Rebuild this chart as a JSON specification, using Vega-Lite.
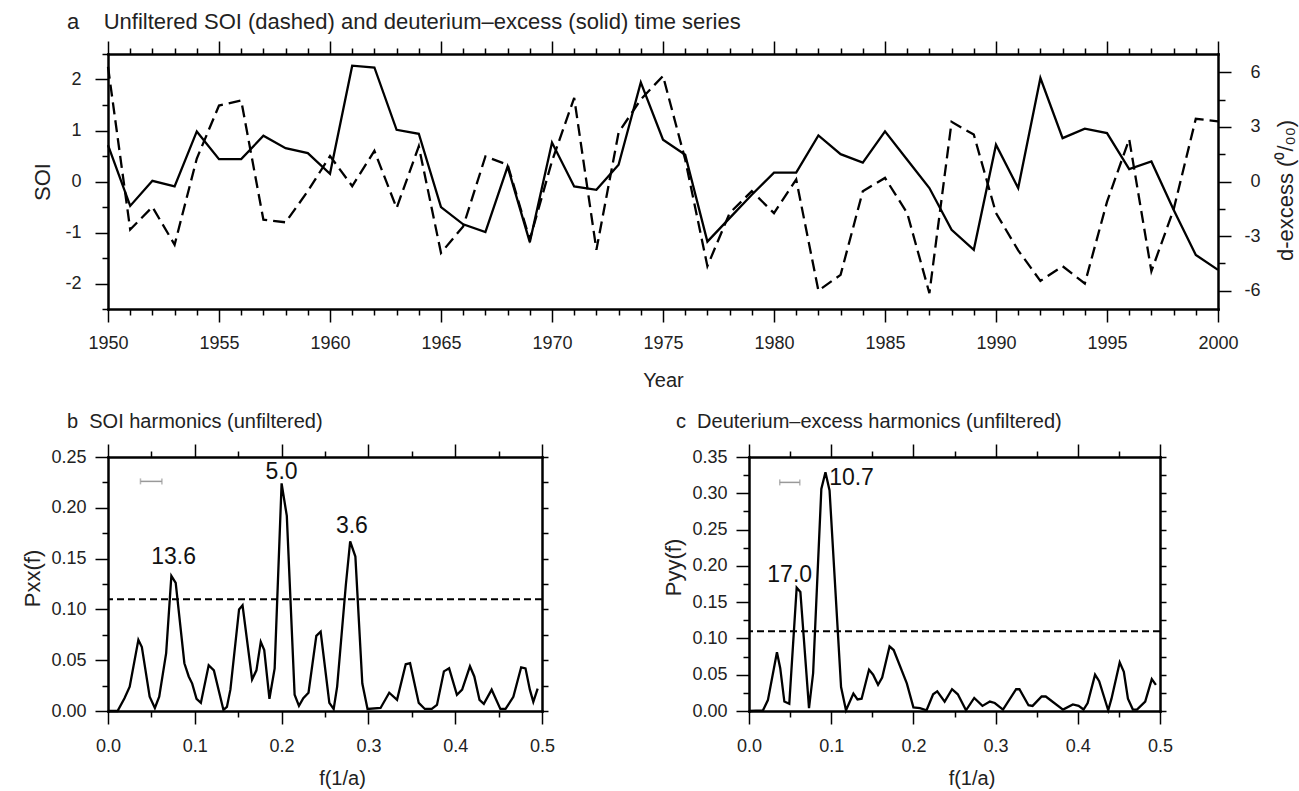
{
  "$schema": "https://vega.github.io/schema/vega-lite/v6.json",
  "autosize": {"type": "none"},
  "padding": {"left": 108, "top": 54, "right": 1191, "bottom": 737},
  "background": "white",
  "config": {
    "font": "Liberation Sans",
    "view": {"stroke": null},
    "axis": {"grid": false, "domainColor": "#000", "domainWidth": 2.5, "domainCap": "square", "tickColor": "#000", "tickWidth": 1.5, "labelFont": "Liberation Sans", "labelFontSize": 18, "labelColor": "#222", "titleFont": "Liberation Sans", "titleFontSize": 22, "titleFontWeight": "normal", "titleColor": "#222", "labelFlush": false, "labelOverlap": false, "labelBound": false, "zindex": 1},
    "title": {"font": "Liberation Sans", "fontWeight": "normal", "color": "#222", "anchor": "start", "frame": "group", "baseline": "alphabetic"}
  },
  "datasets": {
    "ts": [
      {"year": 1950, "soi": 2.25, "dex": 2.0},
      {"year": 1951, "soi": -0.94, "dex": -1.34},
      {"year": 1952, "soi": -0.5, "dex": 0.04},
      {"year": 1953, "soi": -1.24, "dex": -0.27},
      {"year": 1954, "soi": 0.45, "dex": 2.75},
      {"year": 1955, "soi": 1.49, "dex": 1.23},
      {"year": 1956, "soi": 1.59, "dex": 1.23},
      {"year": 1957, "soi": -0.75, "dex": 2.51},
      {"year": 1958, "soi": -0.8, "dex": 1.83},
      {"year": 1959, "soi": -0.19, "dex": 1.56},
      {"year": 1960, "soi": 0.5, "dex": 0.42},
      {"year": 1961, "soi": -0.09, "dex": 6.36},
      {"year": 1962, "soi": 0.6, "dex": 6.26},
      {"year": 1963, "soi": -0.52, "dex": 2.84},
      {"year": 1964, "soi": 0.69, "dex": 2.62},
      {"year": 1965, "soi": -1.4, "dex": -1.41},
      {"year": 1966, "soi": -0.88, "dex": -2.35},
      {"year": 1967, "soi": 0.49, "dex": -2.78},
      {"year": 1968, "soi": 0.33, "dex": 0.82},
      {"year": 1969, "soi": -1.14, "dex": -3.33},
      {"year": 1970, "soi": 0.4, "dex": 2.14},
      {"year": 1971, "soi": 1.64, "dex": -0.27},
      {"year": 1972, "soi": -1.34, "dex": -0.46},
      {"year": 1973, "soi": 0.96, "dex": 0.92},
      {"year": 1974, "soi": 1.61, "dex": 5.44},
      {"year": 1975, "soi": 2.07, "dex": 2.29},
      {"year": 1976, "soi": 0.43, "dex": 1.47},
      {"year": 1977, "soi": -1.66, "dex": -3.3},
      {"year": 1978, "soi": -0.62, "dex": -2.01},
      {"year": 1979, "soi": -0.19, "dex": -0.73},
      {"year": 1980, "soi": -0.62, "dex": 0.49},
      {"year": 1981, "soi": 0.04, "dex": 0.49},
      {"year": 1982, "soi": -2.14, "dex": 2.53},
      {"year": 1983, "soi": -1.83, "dex": 1.5},
      {"year": 1984, "soi": -0.19, "dex": 1.04},
      {"year": 1985, "soi": 0.07, "dex": 2.75},
      {"year": 1986, "soi": -0.62, "dex": 1.19},
      {"year": 1987, "soi": -2.19, "dex": -0.36},
      {"year": 1988, "soi": 1.17, "dex": -2.65},
      {"year": 1989, "soi": 0.92, "dex": -3.75},
      {"year": 1990, "soi": -0.62, "dex": 2.02},
      {"year": 1991, "soi": -1.35, "dex": -0.36},
      {"year": 1992, "soi": -1.95, "dex": 5.68},
      {"year": 1993, "soi": -1.66, "dex": 2.38},
      {"year": 1994, "soi": -2.0, "dex": 2.9},
      {"year": 1995, "soi": -0.4, "dex": 2.66},
      {"year": 1996, "soi": 0.83, "dex": 0.68},
      {"year": 1997, "soi": -1.76, "dex": 1.1},
      {"year": 1998, "soi": -0.55, "dex": -1.55},
      {"year": 1999, "soi": 1.23, "dex": -4.03},
      {"year": 2000, "soi": 1.18, "dex": -4.85}
    ],
    "sb": [
      {"f": 0.0, "p": 0.0}, {"f": 0.011, "p": 0.0}, {"f": 0.019, "p": 0.0125}, {"f": 0.025, "p": 0.024},
      {"f": 0.035, "p": 0.07}, {"f": 0.039, "p": 0.063}, {"f": 0.048, "p": 0.014}, {"f": 0.054, "p": 0.003},
      {"f": 0.059, "p": 0.014}, {"f": 0.067, "p": 0.057}, {"f": 0.073, "p": 0.133}, {"f": 0.078, "p": 0.126},
      {"f": 0.088, "p": 0.047}, {"f": 0.093, "p": 0.034}, {"f": 0.097, "p": 0.027}, {"f": 0.102, "p": 0.012},
      {"f": 0.107, "p": 0.008}, {"f": 0.116, "p": 0.045}, {"f": 0.122, "p": 0.04}, {"f": 0.133, "p": 0.001},
      {"f": 0.137, "p": 0.004}, {"f": 0.141, "p": 0.021}, {"f": 0.151, "p": 0.1}, {"f": 0.155, "p": 0.104},
      {"f": 0.166, "p": 0.031}, {"f": 0.171, "p": 0.04}, {"f": 0.176, "p": 0.068}, {"f": 0.18, "p": 0.06},
      {"f": 0.186, "p": 0.012}, {"f": 0.192, "p": 0.042}, {"f": 0.2, "p": 0.224}, {"f": 0.206, "p": 0.192},
      {"f": 0.215, "p": 0.016}, {"f": 0.22, "p": 0.005}, {"f": 0.225, "p": 0.0125}, {"f": 0.231, "p": 0.018},
      {"f": 0.24, "p": 0.074}, {"f": 0.245, "p": 0.078}, {"f": 0.255, "p": 0.008}, {"f": 0.26, "p": 0.002},
      {"f": 0.264, "p": 0.024}, {"f": 0.274, "p": 0.124}, {"f": 0.279, "p": 0.167}, {"f": 0.285, "p": 0.152},
      {"f": 0.293, "p": 0.027}, {"f": 0.299, "p": 0.002}, {"f": 0.314, "p": 0.003}, {"f": 0.324, "p": 0.018},
      {"f": 0.333, "p": 0.011}, {"f": 0.343, "p": 0.046}, {"f": 0.348, "p": 0.047}, {"f": 0.358, "p": 0.008},
      {"f": 0.365, "p": 0.002}, {"f": 0.373, "p": 0.002}, {"f": 0.379, "p": 0.006}, {"f": 0.387, "p": 0.039},
      {"f": 0.393, "p": 0.042}, {"f": 0.402, "p": 0.016}, {"f": 0.408, "p": 0.021}, {"f": 0.417, "p": 0.044},
      {"f": 0.422, "p": 0.034}, {"f": 0.428, "p": 0.011}, {"f": 0.433, "p": 0.007}, {"f": 0.442, "p": 0.021},
      {"f": 0.452, "p": 0.002}, {"f": 0.458, "p": 0.002}, {"f": 0.467, "p": 0.014}, {"f": 0.476, "p": 0.043},
      {"f": 0.481, "p": 0.042}, {"f": 0.486, "p": 0.021}, {"f": 0.49, "p": 0.009}, {"f": 0.495, "p": 0.022}
    ],
    "sc": [
      {"f": 0.0, "p": 0.0}, {"f": 0.017, "p": 0.001}, {"f": 0.023, "p": 0.015}, {"f": 0.034, "p": 0.081},
      {"f": 0.038, "p": 0.059}, {"f": 0.043, "p": 0.013}, {"f": 0.049, "p": 0.01}, {"f": 0.058, "p": 0.17},
      {"f": 0.0625, "p": 0.164}, {"f": 0.073, "p": 0.004}, {"f": 0.078, "p": 0.052}, {"f": 0.088, "p": 0.306},
      {"f": 0.093, "p": 0.329}, {"f": 0.098, "p": 0.304}, {"f": 0.112, "p": 0.033}, {"f": 0.118, "p": 0.001},
      {"f": 0.127, "p": 0.024}, {"f": 0.132, "p": 0.016}, {"f": 0.137, "p": 0.017}, {"f": 0.146, "p": 0.057},
      {"f": 0.151, "p": 0.05}, {"f": 0.157, "p": 0.036}, {"f": 0.162, "p": 0.046}, {"f": 0.171, "p": 0.089},
      {"f": 0.176, "p": 0.084}, {"f": 0.192, "p": 0.038}, {"f": 0.2, "p": 0.005}, {"f": 0.208, "p": 0.004},
      {"f": 0.216, "p": 0.001}, {"f": 0.224, "p": 0.023}, {"f": 0.229, "p": 0.027}, {"f": 0.238, "p": 0.013},
      {"f": 0.247, "p": 0.03}, {"f": 0.254, "p": 0.023}, {"f": 0.264, "p": 0.001}, {"f": 0.274, "p": 0.018},
      {"f": 0.284, "p": 0.007}, {"f": 0.293, "p": 0.013}, {"f": 0.299, "p": 0.011}, {"f": 0.309, "p": 0.002},
      {"f": 0.325, "p": 0.03}, {"f": 0.329, "p": 0.03}, {"f": 0.34, "p": 0.008}, {"f": 0.345, "p": 0.007},
      {"f": 0.356, "p": 0.02}, {"f": 0.361, "p": 0.02}, {"f": 0.382, "p": 0.002}, {"f": 0.394, "p": 0.009},
      {"f": 0.401, "p": 0.007}, {"f": 0.407, "p": 0.002}, {"f": 0.412, "p": 0.011}, {"f": 0.421, "p": 0.05},
      {"f": 0.426, "p": 0.041}, {"f": 0.437, "p": 0.001}, {"f": 0.441, "p": 0.017}, {"f": 0.451, "p": 0.067},
      {"f": 0.456, "p": 0.054}, {"f": 0.461, "p": 0.017}, {"f": 0.467, "p": 0.002}, {"f": 0.472, "p": 0.002},
      {"f": 0.482, "p": 0.013}, {"f": 0.49, "p": 0.044}, {"f": 0.495, "p": 0.036}
    ],
    "sig": [{"sig": 0.11}],
    "bw_b": [{"f1": 0.0374, "f2": 0.0621, "p": 0.226}],
    "cap_b": [{"f": 0.0374, "p": 0.226}, {"f": 0.0621, "p": 0.226}],
    "bw_c": [{"f1": 0.0374, "f2": 0.0618, "p": 0.315}],
    "cap_c": [{"f": 0.0374, "p": 0.315}, {"f": 0.0618, "p": 0.315}],
    "pk_b": [{"f": 0.0755, "p": 0.152, "label": "13.6"}, {"f": 0.2, "p": 0.235, "label": "5.0"}, {"f": 0.281, "p": 0.1825, "label": "3.6"}],
    "pk_c": [{"f": 0.0495, "p": 0.187, "label": "17.0"}, {"f": 0.1247, "p": 0.3216, "label": "10.7"}]
  },
  "spacing": 148,
  "bounds": "flush",
  "vconcat": [
    {
      "width": 1110,
      "height": 255,
      "data": {"name": "ts"},
      "title": {"text": "a\u00a0\u00a0\u00a0\u00a0Unfiltered SOI (dashed) and deuterium\u2013excess (solid) time series", "fontSize": 22, "dx": -41, "offset": 6},
      "layer": [
        {
          "mark": {"type": "line", "color": "#000", "strokeWidth": 2.3},
          "encoding": {
            "x": {"field": "year", "type": "quantitative", "scale": {"domain": [1950, 2000], "nice": false, "zero": false},
              "axis": {"orient": "bottom", "values": [1950, 1955, 1960, 1965, 1970, 1975, 1980, 1985, 1990, 1995, 2000], "format": "d", "tickSize": 13, "labelPadding": 12, "title": "Year", "titleFontSize": 20, "titlePadding": 18}},
            "y": {"field": "dex", "type": "quantitative", "scale": {"domain": [-7, 7], "nice": false, "zero": false},
              "axis": {"orient": "right", "values": [-6, -3, 0, 3, 6], "tickSize": 13, "labelAlign": "right", "labelPadding": 29, "labelExpr": "replace(datum.label, '\u2212', '-')", "title": "d-excess (\u2070/\u2080\u2080)", "titleAngle": 270, "titleBaseline": "top", "titlePadding": 15, "titleY": 136, "titleFontSize": 22}}
          }
        },
        {
          "mark": {"type": "line", "color": "#000", "strokeWidth": 2.3, "strokeDash": [12, 6]},
          "encoding": {
            "x": {"field": "year", "type": "quantitative", "scale": {"domain": [1950, 2000], "nice": false, "zero": false},
              "axis": {"orient": "top", "values": [1950, 1955, 1960, 1965, 1970, 1975, 1980, 1985, 1990, 1995, 2000], "tickSize": 13, "labels": false, "title": null}},
            "y": {"field": "soi", "type": "quantitative", "scale": {"domain": [-2.5, 2.5], "nice": false, "zero": false},
              "axis": {"orient": "left", "values": [-2, -1, 0, 1, 2], "tickSize": 13, "labelPadding": 14, "labelExpr": "replace(datum.label, '\u2212', '-')", "title": "SOI", "titlePadding": 10}}
          }
        },
        {
          "mark": {"type": "line", "opacity": 0},
          "encoding": {
            "x": {"field": "year", "type": "quantitative", "scale": {"domain": [1950, 2000], "nice": false, "zero": false},
              "axis": {"orient": "bottom", "values": [1951, 1952, 1953, 1954, 1956, 1957, 1958, 1959, 1961, 1962, 1963, 1964, 1966, 1967, 1968, 1969, 1971, 1972, 1973, 1974, 1976, 1977, 1978, 1979, 1981, 1982, 1983, 1984, 1986, 1987, 1988, 1989, 1991, 1992, 1993, 1994, 1996, 1997, 1998, 1999], "tickSize": 6, "labels": false, "domain": false, "title": null}},
            "y": {"field": "soi", "type": "quantitative", "scale": {"domain": [-2.5, 2.5], "nice": false, "zero": false},
              "axis": {"orient": "left", "values": [-2.5, -1.5, -0.5, 0.5, 1.5, 2.5], "tickSize": 6, "labels": false, "domain": false, "title": null}}
          }
        },
        {
          "mark": {"type": "line", "opacity": 0},
          "encoding": {
            "x": {"field": "year", "type": "quantitative", "scale": {"domain": [1950, 2000], "nice": false, "zero": false},
              "axis": {"orient": "top", "values": [1951, 1952, 1953, 1954, 1956, 1957, 1958, 1959, 1961, 1962, 1963, 1964, 1966, 1967, 1968, 1969, 1971, 1972, 1973, 1974, 1976, 1977, 1978, 1979, 1981, 1982, 1983, 1984, 1986, 1987, 1988, 1989, 1991, 1992, 1993, 1994, 1996, 1997, 1998, 1999], "tickSize": 6, "labels": false, "domain": false, "title": null}},
            "y": {"field": "dex", "type": "quantitative", "scale": {"domain": [-7, 7], "nice": false, "zero": false},
              "axis": {"orient": "right", "values": [-4.5, -1.5, 1.5, 4.5], "tickSize": 7, "labels": false, "domain": false, "title": null}}
          }
        }
      ],
      "resolve": {"scale": {"y": "independent"}, "axis": {"x": "independent", "y": "independent"}}
    },
    {
      "spacing": 207,
      "bounds": "flush",
      "hconcat": [
        {
          "width": 434,
          "height": 254,
          "title": {"text": "b\u00a0\u00a0SOI harmonics (unfiltered)", "fontSize": 20, "dx": -41, "offset": 11},
          "layer": [
            {
              "data": {"name": "sb"},
              "mark": {"type": "line", "color": "#000", "strokeWidth": 2.3},
              "encoding": {
                "x": {"field": "f", "type": "quantitative", "scale": {"domain": [0, 0.5], "nice": false},
                  "axis": {"orient": "bottom", "values": [0, 0.1, 0.2, 0.3, 0.4, 0.5], "format": ".1f", "tickSize": 13, "labelPadding": 13, "title": "f(1/a)", "titleFontSize": 20, "titlePadding": 13, "titleX": 234}},
                "y": {"field": "p", "type": "quantitative", "scale": {"domain": [0, 0.25], "nice": false},
                  "axis": {"orient": "left", "values": [0, 0.05, 0.1, 0.15, 0.2, 0.25], "format": ".2f", "tickSize": 13, "labelPadding": 9, "title": "Pxx(f)", "titlePadding": 6, "titleY": 121}}
              }
            },
            {
              "data": {"name": "sb"},
              "mark": {"type": "line", "opacity": 0},
              "encoding": {
                "x": {"field": "f", "type": "quantitative", "scale": {"domain": [0, 0.5], "nice": false},
                  "axis": {"orient": "bottom", "values": [0.05, 0.15, 0.25, 0.35, 0.45], "tickSize": 6, "labels": false, "domain": false, "title": null}},
                "y": {"field": "p", "type": "quantitative", "scale": {"domain": [0, 0.25], "nice": false},
                  "axis": {"orient": "left", "values": [0.025, 0.075, 0.125, 0.175, 0.225], "tickSize": 6, "labels": false, "domain": false, "title": null}}
              }
            },
            {
              "data": {"name": "sb"},
              "mark": {"type": "line", "opacity": 0},
              "encoding": {
                "x": {"field": "f", "type": "quantitative", "scale": {"domain": [0, 0.5], "nice": false},
                  "axis": {"orient": "top", "values": [0, 0.1, 0.2, 0.3, 0.4, 0.5], "tickSize": 13, "labels": false, "title": null}},
                "y": {"field": "p", "type": "quantitative", "scale": {"domain": [0, 0.25], "nice": false},
                  "axis": {"orient": "right", "values": [0, 0.025, 0.05, 0.075, 0.1, 0.125, 0.15, 0.175, 0.2, 0.225, 0.25], "tickSize": 6, "labels": false, "title": null}}
              }
            },
            {
              "data": {"name": "sb"},
              "mark": {"type": "line", "opacity": 0},
              "encoding": {
                "x": {"field": "f", "type": "quantitative", "scale": {"domain": [0, 0.5], "nice": false},
                  "axis": {"orient": "top", "values": [0.05, 0.15, 0.25, 0.35, 0.45], "tickSize": 6, "labels": false, "domain": false, "title": null}},
                "y": {"field": "p", "type": "quantitative", "scale": {"domain": [0, 0.25], "nice": false}, "axis": null}
              }
            },
            {
              "data": {"name": "sig"},
              "mark": {"type": "rule", "color": "#000", "strokeWidth": 2, "strokeDash": [7, 4]},
              "encoding": {
                "y": {"field": "sig", "type": "quantitative", "scale": {"domain": [0, 0.25], "nice": false}, "axis": null}
              }
            },
            {
              "data": {"name": "bw_b"},
              "mark": {"type": "rule", "color": "#999", "strokeWidth": 1.5},
              "encoding": {
                "x": {"field": "f1", "type": "quantitative", "scale": {"domain": [0, 0.5], "nice": false}, "axis": null},
                "x2": {"field": "f2"},
                "y": {"field": "p", "type": "quantitative", "scale": {"domain": [0, 0.25], "nice": false}, "axis": null}
              }
            },
            {
              "data": {"name": "cap_b"},
              "mark": {"type": "tick", "orient": "vertical", "color": "#999", "size": 6, "thickness": 1.5},
              "encoding": {
                "x": {"field": "f", "type": "quantitative", "scale": {"domain": [0, 0.5], "nice": false}, "axis": null},
                "y": {"field": "p", "type": "quantitative", "scale": {"domain": [0, 0.25], "nice": false}, "axis": null}
              }
            },
            {
              "data": {"name": "pk_b"},
              "mark": {"type": "text", "font": "Liberation Sans", "fontSize": 23, "color": "#111", "align": "center", "baseline": "middle"},
              "encoding": {
                "x": {"field": "f", "type": "quantitative", "scale": {"domain": [0, 0.5], "nice": false}, "axis": null},
                "y": {"field": "p", "type": "quantitative", "scale": {"domain": [0, 0.25], "nice": false}, "axis": null},
                "text": {"field": "label"}
              }
            }
          ],
          "resolve": {"scale": {"y": "independent"}, "axis": {"x": "independent", "y": "independent"}}
        },
        {
          "width": 411,
          "height": 254,
          "title": {"text": "c\u00a0\u00a0Deuterium\u2013excess harmonics (unfiltered)", "fontSize": 20, "dx": -73, "offset": 11},
          "layer": [
            {
              "data": {"name": "sc"},
              "mark": {"type": "line", "color": "#000", "strokeWidth": 2.3},
              "encoding": {
                "x": {"field": "f", "type": "quantitative", "scale": {"domain": [0, 0.5], "nice": false},
                  "axis": {"orient": "bottom", "values": [0, 0.1, 0.2, 0.3, 0.4, 0.5], "format": ".1f", "tickSize": 13, "labelPadding": 13, "title": "f(1/a)", "titleFontSize": 20, "titlePadding": 13, "titleX": 222.5}},
                "y": {"field": "p", "type": "quantitative", "scale": {"domain": [0, 0.35], "nice": false},
                  "axis": {"orient": "left", "values": [0, 0.05, 0.1, 0.15, 0.2, 0.25, 0.3, 0.35], "format": ".2f", "tickSize": 13, "labelPadding": 9, "title": "Pyy(f)", "titlePadding": 6, "titleY": 110}}
              }
            },
            {
              "data": {"name": "sc"},
              "mark": {"type": "line", "opacity": 0},
              "encoding": {
                "x": {"field": "f", "type": "quantitative", "scale": {"domain": [0, 0.5], "nice": false},
                  "axis": {"orient": "bottom", "values": [0.05, 0.15, 0.25, 0.35, 0.45], "tickSize": 6, "labels": false, "domain": false, "title": null}},
                "y": {"field": "p", "type": "quantitative", "scale": {"domain": [0, 0.35], "nice": false},
                  "axis": {"orient": "left", "values": [0.025, 0.075, 0.125, 0.175, 0.225, 0.275, 0.325], "tickSize": 6, "labels": false, "domain": false, "title": null}}
              }
            },
            {
              "data": {"name": "sc"},
              "mark": {"type": "line", "opacity": 0},
              "encoding": {
                "x": {"field": "f", "type": "quantitative", "scale": {"domain": [0, 0.5], "nice": false},
                  "axis": {"orient": "top", "values": [0, 0.1, 0.2, 0.3, 0.4, 0.5], "tickSize": 13, "labels": false, "title": null}},
                "y": {"field": "p", "type": "quantitative", "scale": {"domain": [0, 0.35], "nice": false},
                  "axis": {"orient": "right", "values": [0, 0.025, 0.05, 0.075, 0.1, 0.125, 0.15, 0.175, 0.2, 0.225, 0.25, 0.275, 0.3, 0.325, 0.35], "tickSize": 6, "labels": false, "title": null}}
              }
            },
            {
              "data": {"name": "sc"},
              "mark": {"type": "line", "opacity": 0},
              "encoding": {
                "x": {"field": "f", "type": "quantitative", "scale": {"domain": [0, 0.5], "nice": false},
                  "axis": {"orient": "top", "values": [0.05, 0.15, 0.25, 0.35, 0.45], "tickSize": 6, "labels": false, "domain": false, "title": null}},
                "y": {"field": "p", "type": "quantitative", "scale": {"domain": [0, 0.35], "nice": false}, "axis": null}
              }
            },
            {
              "data": {"name": "sig"},
              "mark": {"type": "rule", "color": "#000", "strokeWidth": 2, "strokeDash": [7, 4]},
              "encoding": {
                "y": {"field": "sig", "type": "quantitative", "scale": {"domain": [0, 0.35], "nice": false}, "axis": null}
              }
            },
            {
              "data": {"name": "bw_c"},
              "mark": {"type": "rule", "color": "#999", "strokeWidth": 1.5},
              "encoding": {
                "x": {"field": "f1", "type": "quantitative", "scale": {"domain": [0, 0.5], "nice": false}, "axis": null},
                "x2": {"field": "f2"},
                "y": {"field": "p", "type": "quantitative", "scale": {"domain": [0, 0.35], "nice": false}, "axis": null}
              }
            },
            {
              "data": {"name": "cap_c"},
              "mark": {"type": "tick", "orient": "vertical", "color": "#999", "size": 6, "thickness": 1.5},
              "encoding": {
                "x": {"field": "f", "type": "quantitative", "scale": {"domain": [0, 0.5], "nice": false}, "axis": null},
                "y": {"field": "p", "type": "quantitative", "scale": {"domain": [0, 0.35], "nice": false}, "axis": null}
              }
            },
            {
              "data": {"name": "pk_c"},
              "mark": {"type": "text", "font": "Liberation Sans", "fontSize": 23, "color": "#111", "align": "center", "baseline": "middle"},
              "encoding": {
                "x": {"field": "f", "type": "quantitative", "scale": {"domain": [0, 0.5], "nice": false}, "axis": null},
                "y": {"field": "p", "type": "quantitative", "scale": {"domain": [0, 0.35], "nice": false}, "axis": null},
                "text": {"field": "label"}
              }
            }
          ],
          "resolve": {"scale": {"y": "independent"}, "axis": {"x": "independent", "y": "independent"}}
        }
      ]
    }
  ]
}
